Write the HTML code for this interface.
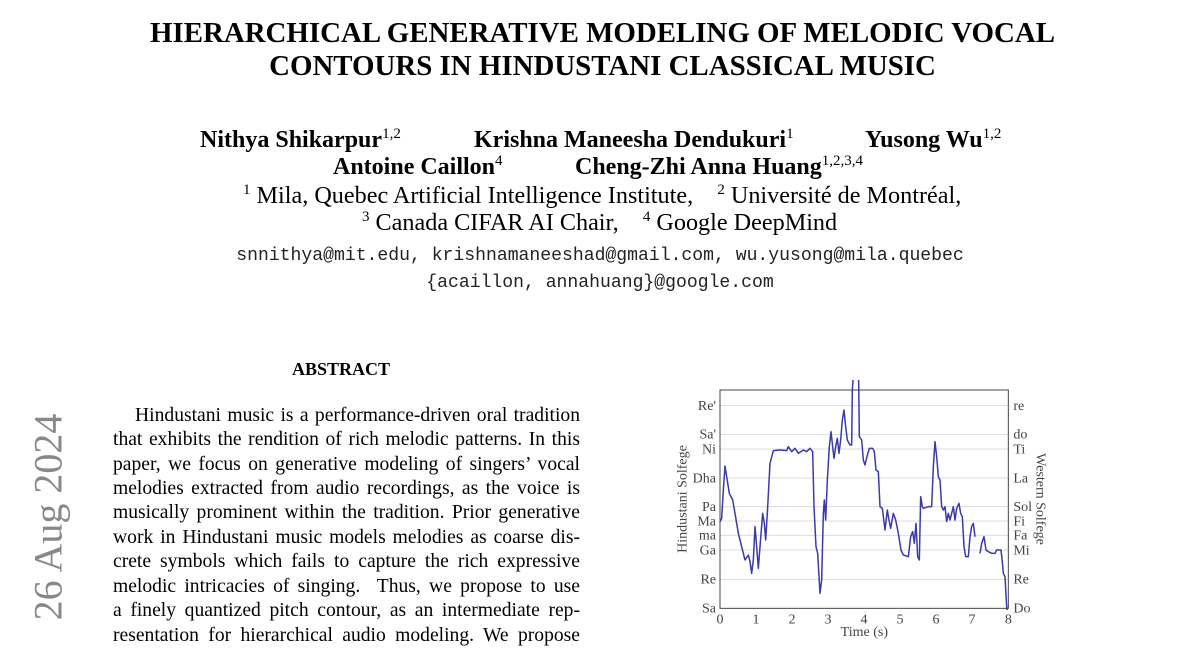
<!DOCTYPE html>
<html><head><meta charset="utf-8"><style>
body{margin:0;width:1200px;height:648px;background:#fff;overflow:hidden;position:relative;font-family:"Liberation Serif",serif;color:#000}
.a{position:absolute;white-space:nowrap}
.t{left:0;width:1205px;text-align:center;font-weight:bold;font-size:28.9px}
.au{font-weight:bold;font-size:24px}
sup{font-size:15px;font-weight:normal;vertical-align:9px;line-height:0}
.af{font-size:24.2px}
.m{font-family:"Liberation Mono",monospace;font-size:18.1px;color:#222;left:0;width:1200px;text-align:center}
.l{position:absolute;left:113px;width:467px;font-size:19.6px;text-align:justify;text-align-last:justify;white-space:nowrap;line-height:22px}
</style></head><body>
<div class="a t" style="top:17px">HIERARCHICAL GENERATIVE MODELING OF MELODIC VOCAL</div>
<div class="a t" style="top:50px">CONTOURS IN HINDUSTANI CLASSICAL MUSIC</div>

<div class="a au" style="left:200px;top:127px">Nithya Shikarpur<sup>1,2</sup></div>
<div class="a au" style="left:474px;top:127px">Krishna Maneesha Dendukuri<sup>1</sup></div>
<div class="a au" style="left:865px;top:127px">Yusong Wu<sup>1,2</sup></div>
<div class="a au" style="left:333px;top:154px">Antoine Caillon<sup>4</sup></div>
<div class="a au" style="left:575px;top:154px">Cheng-Zhi Anna Huang<sup>1,2,3,4</sup></div>
<div class="a af" style="left:243px;top:182px"><sup>1</sup> Mila, Quebec Artificial Intelligence Institute, &nbsp;&nbsp; <sup>2</sup> Université de Montréal,</div>
<div class="a af" style="left:362px;top:209px"><sup>3</sup> Canada CIFAR AI Chair, &nbsp;&nbsp; <sup>4</sup> Google DeepMind</div>
<div class="a m" style="top:246px">snnithya@mit.edu, krishnamaneeshad@gmail.com, wu.yusong@mila.quebec</div>
<div class="a m" style="top:273px">{acaillon, annahuang}@google.com</div>

<div class="a" style="left:292px;top:359px;font-weight:bold;font-size:18px">ABSTRACT</div>

<div class="l" style="top:405px;left:135px;width:445px">Hindustani music is a performance-driven oral tradition</div>
<div class="l" style="top:429px">that exhibits the rendition of rich melodic patterns. In this</div>
<div class="l" style="top:454px">paper, we focus on generative modeling of singers’ vocal</div>
<div class="l" style="top:478px">melodies extracted from audio recordings, as the voice is</div>
<div class="l" style="top:502px">musically prominent within the tradition. Prior generative</div>
<div class="l" style="top:527px">work in Hindustani music models melodies as coarse dis-</div>
<div class="l" style="top:551px">crete symbols which fails to capture the rich expressive</div>
<div class="l" style="top:576px">melodic intricacies of singing. &nbsp;Thus, we propose to use</div>
<div class="l" style="top:600px">a finely quantized pitch contour, as an intermediate rep-</div>
<div class="l" style="top:625px">resentation for hierarchical audio modeling. We propose</div>

<div class="a" style="left:48px;top:517px;transform:translate(-50%,-50%) rotate(-90deg);font-size:40px;color:#888">26 Aug 2024</div>

<svg style="position:absolute;left:670px;top:380px" width="400" height="260" viewBox="0 0 1200 780">
<g stroke="#ddd" stroke-width="3">
<line x1="150" x2="1015" y1="77" y2="77"/><line x1="150" x2="1015" y1="163" y2="163"/>
<line x1="150" x2="1015" y1="207" y2="207"/><line x1="150" x2="1015" y1="294" y2="294"/>
<line x1="150" x2="1015" y1="380" y2="380"/><line x1="150" x2="1015" y1="423" y2="423"/>
<line x1="150" x2="1015" y1="466" y2="466"/><line x1="150" x2="1015" y1="510" y2="510"/>
<line x1="150" x2="1015" y1="598" y2="598"/>
</g>
<polyline fill="none" stroke="#3a3aa8" stroke-width="4.5" stroke-linejoin="round" points="150,425 155,415 160,330 165,258 170,290 178,340 188,360 195,400 205,460 215,500 225,540 235,525 240,545 245,580 250,540 255,440 260,500 265,565 270,500 278,400 283,430 287,480 292,400 300,250 310,212 330,210 350,212 355,200 365,215 375,205 385,220 400,210 410,215 420,205 428,215 432,380 438,500 443,520 450,640 455,600 460,400 463,360 467,420 472,300 478,200 483,155 488,200 492,235 497,200 502,175 507,220 512,180 517,120 522,90 527,140 532,180 540,195 545,195 547,30 549,0"/>
<polyline fill="none" stroke="#3a3aa8" stroke-width="4.5" stroke-linejoin="round" points="566,0 568,170 575,180 580,240 585,255 592,225 598,205 608,205 613,215 618,270 625,275 630,380 637,385 645,450 652,390 657,420 662,445 670,400 677,420 685,460 693,510 700,525 715,530 722,470 728,455 733,490 738,430 743,530 748,540 752,350 757,380 760,385 775,380 785,380 790,260 795,185 800,230 805,290 810,300 815,380 820,390 825,380 830,425 835,400 840,420 845,400 850,380 855,420 860,385 867,370 872,400 877,410 882,500 887,530 895,530 900,470 905,440 910,430 915,470"/>
<polyline fill="none" stroke="#3a3aa8" stroke-width="4.5" stroke-linejoin="round" points="930,520 935,490 942,470 948,510 955,515 965,520 975,520 980,510 990,510 993,510 997,545 1000,580 1005,590 1010,680 1012,690"/>
<rect x="150" y="30" width="865" height="655" fill="none" stroke="#444" stroke-width="3"/>
<g font-family="Liberation Serif,serif" font-size="42" fill="#444">
<g text-anchor="end">
<text x="138" y="90">Re'</text><text x="138" y="176">Sa'</text><text x="138" y="220">Ni</text>
<text x="138" y="307">Dha</text><text x="138" y="393">Pa</text><text x="138" y="436">Ma</text>
<text x="138" y="479">ma</text><text x="138" y="523">Ga</text><text x="138" y="611">Re</text><text x="138" y="698">Sa</text>
</g>
<g>
<text x="1030" y="90">re</text><text x="1030" y="176">do</text><text x="1030" y="220">Ti</text>
<text x="1030" y="307">La</text><text x="1030" y="393">Sol</text><text x="1030" y="436">Fi</text>
<text x="1030" y="479">Fa</text><text x="1030" y="523">Mi</text><text x="1030" y="611">Re</text><text x="1030" y="698">Do</text>
</g>
<g text-anchor="middle">
<text x="150" y="730">0</text><text x="258" y="730">1</text><text x="366" y="730">2</text><text x="474" y="730">3</text>
<text x="582" y="730">4</text><text x="690" y="730">5</text><text x="798" y="730">6</text><text x="906" y="730">7</text><text x="1015" y="730">8</text>
<text x="583" y="768">Time (s)</text>
<text transform="translate(50,357) rotate(-90)">Hindustani Solfege</text>
<text transform="translate(1100,357) rotate(90)">Western Solfege</text>
</g>
</g>
</svg>
</body></html>
